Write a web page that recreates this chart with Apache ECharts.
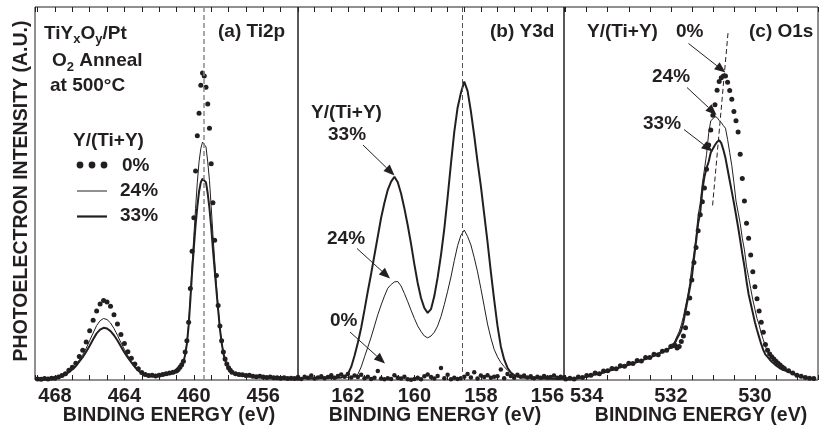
<!DOCTYPE html>
<html>
<head>
<meta charset="utf-8">
<title>TiYxOy/Pt XPS spectra</title>
<script src="https://cdn.jsdelivr.net/npm/echarts@6/dist/echarts.min.js"></script>
<style>
html, body { margin: 0; padding: 0; background: #fff; }
#chart { width: 821px; height: 430px; }
</style>
</head>
<body>
<div id="chart"></div>
<script>
// (a) Ti2p  -- binding energy (eV) and intensity (a.u., 0-100 of the frame)
const tiEnergy = [
  469.0, 468.8, 468.6, 468.4, 468.2, 468.0, 467.8, 467.6, 467.4, 467.2,
  467.0, 466.8, 466.6, 466.4, 466.2, 466.0, 465.8, 465.6, 465.4, 465.2,
  465.0, 464.8, 464.6, 464.4, 464.2, 464.0, 463.8, 463.6, 463.4, 463.2,
  463.0, 462.8, 462.6, 462.4, 462.2, 462.0, 461.8, 461.6, 461.4, 461.2,
  461.0, 460.9, 460.8, 460.7, 460.6, 460.5, 460.4, 460.3, 460.2, 460.1,
  460.0, 459.9, 459.8, 459.7, 459.6, 459.5, 459.4, 459.3, 459.2, 459.1,
  459.0, 458.9, 458.8, 458.7, 458.6, 458.5, 458.4, 458.3, 458.2, 458.1,
  458.0, 457.9, 457.8,
  457.6, 457.4, 457.2, 457.0, 456.8, 456.6, 456.4, 456.2, 456.0, 455.8,
  455.6, 455.4, 455.2, 455.0, 454.8, 454.6, 454.4, 454.2, 454.0
];
const ti0 = [
  0.3, 0.2, 0.4, 0.3, 0.5, 0.5, 0.8, 1.2, 1.7, 2.6,
  3.4, 4.5, 6.3, 8.0, 10.2, 13.2, 16.0, 18.5, 20.4, 21.3,
  20.9, 19.8, 17.5, 15.0, 12.2, 9.8, 7.6, 5.8, 4.3, 3.0,
  2.0, 1.5, 1.2, 1.3, 1.1, 1.3, 1.5, 1.7, 1.9, 2.1,
  2.4, 2.8, 3.4, 4.1, 5.0, 7.5, 10.5, 15.5, 24.5, 34.5,
  43.5, 56.0, 65.5, 71.5, 79.0, 82.3, 81.5, 78.5, 74.0, 67.5,
  58.0, 47.5, 37.5, 28.0, 20.0, 14.5, 10.5, 7.5, 5.6, 4.3,
  3.3, 2.6, 2.1,
  1.7, 1.5, 1.4, 1.2, 1.3, 1.0, 0.9, 1.0, 0.8, 0.7,
  0.8, 0.6, 0.6, 0.5, 0.6, 0.4, 0.5, 0.4, 0.5
];
const ti24 = [
  0.3, 0.2, 0.4, 0.3, 0.4, 0.5, 0.7, 1.1, 1.5, 2.3,
  3.0, 4.0, 5.4, 6.8, 8.5, 10.6, 12.6, 14.6, 15.9, 16.5,
  16.2, 15.3, 13.8, 12.0, 10.0, 8.2, 6.5, 5.0, 3.8, 2.7,
  1.9, 1.4, 1.1, 1.1, 1.0, 1.2, 1.3, 1.5, 1.7, 1.9,
  2.2, 2.6, 3.2, 3.9, 4.8, 7.0, 10.0, 15.0, 22.5, 31.0,
  38.5, 46.0, 53.0, 58.5, 62.0, 63.8, 64.3, 62.5, 58.5, 53.5,
  46.5, 39.0, 32.0, 25.5, 19.5, 14.0, 10.2, 7.3, 5.4, 4.1,
  3.2, 2.5, 2.0,
  1.6, 1.4, 1.3, 1.1, 1.1, 0.9, 0.9, 0.8, 0.7, 0.7,
  0.6, 0.6, 0.5, 0.5, 0.5, 0.4, 0.4, 0.4, 0.4
];
const ti33 = [
  0.3, 0.2, 0.3, 0.3, 0.4, 0.5, 0.7, 1.0, 1.4, 2.1,
  2.8, 3.7, 4.9, 6.1, 7.6, 9.2, 10.9, 12.5, 13.5, 14.0,
  13.8, 13.1, 12.0, 10.6, 9.0, 7.4, 6.0, 4.7, 3.5, 2.5,
  1.8, 1.3, 1.1, 1.0, 1.0, 1.1, 1.2, 1.4, 1.6, 1.8,
  2.1, 2.5, 3.1, 3.8, 4.7, 6.8, 9.7, 14.5, 21.5, 29.0,
  35.5, 41.5, 46.5, 50.5, 53.0, 54.0, 54.2, 53.0, 50.0, 46.0,
  41.0, 35.0, 29.5, 24.0, 18.8, 13.8, 10.0, 7.2, 5.3, 4.0,
  3.1, 2.4, 1.9,
  1.5, 1.3, 1.2, 1.0, 1.0, 0.9, 0.8, 0.8, 0.7, 0.6,
  0.6, 0.5, 0.5, 0.5, 0.4, 0.4, 0.4, 0.3, 0.4
];

// (b) Y3d
const yEnergy = [
  163.5, 163.4, 163.3, 163.2, 163.1, 163.0,
  162.9, 162.8, 162.7, 162.6, 162.5, 162.4, 162.3, 162.2, 162.1, 162.0,
  161.9, 161.8, 161.7, 161.6, 161.5, 161.4, 161.3, 161.2, 161.1, 161.0,
  160.9, 160.8, 160.7, 160.6, 160.5, 160.4, 160.3, 160.2, 160.1, 160.0,
  159.9, 159.8, 159.7, 159.6, 159.5, 159.4, 159.3, 159.2, 159.1, 159.0,
  158.9, 158.8, 158.7, 158.6, 158.5, 158.4, 158.3, 158.2, 158.1, 158.0,
  157.9, 157.8, 157.7, 157.6, 157.5, 157.4, 157.3, 157.2, 157.1, 157.0,
  156.9, 156.8, 156.7, 156.6, 156.5, 156.4, 156.3, 156.2, 156.1, 156.0,
  155.9, 155.8, 155.7, 155.6, 155.5
];
const y0 = [
  0.8, 0.3, 0.9, 0.6, 1.2, 0.4,
  0.7, 1.0, 0.5, 0.8, 1.3, 0.6, 1.1, 1.5, 0.9, 1.6,
  0.7, 1.2, 0.8, 1.4, 0.5, 0.9, 0.3, 0.6, 2.4, 0.4,
  0.2, 0.5, 0.3, 1.3, 0.6, 0.4, 0.9, 0.2, 0.1, 0.3,
  0.6, 0.2, 1.0, 1.5, 0.8, 0.4, 1.1, 3.2, 0.5, 1.4,
  0.2, 0.6, 0.3, 0.5, 0.9, 1.6, 0.7, 2.1, 0.4, 1.2,
  0.8, 1.3, 0.6, 0.9, 1.0, 2.8, 0.5, 1.6, 1.1, 0.6,
  1.4, 0.9, 1.2, 0.7, 1.0, 0.5, 0.9, 0.6, 1.1, 0.7,
  0.8, 1.2, 0.6, 0.9, 0.7
];
const y24 = [
  0.4, 0.3, 0.4, 0.5, 0.4, 0.5,
  0.4, 0.6, 0.5, 0.6, 0.5, 0.6, 0.7, 0.6, 0.8, 0.7,
  0.7, 1.0, 1.5, 3.5, 6.2, 8.8, 11.5, 14.5, 17.5, 20.1,
  22.5, 24.6, 25.6, 26.3, 26.4, 25.2, 23.2, 21.0, 18.7, 16.5,
  14.5, 13.0, 11.8, 11.3, 11.8, 12.8, 14.5, 17.0, 20.2, 23.8,
  27.6, 32.0, 36.0, 38.8, 40.2, 38.5, 36.2, 32.8, 29.0, 24.5,
  19.8, 15.0, 11.3, 8.2, 6.2, 4.7, 3.6, 2.6, 1.9, 1.3,
  1.0, 0.8, 0.7, 0.8, 0.6, 0.5, 0.6, 0.5, 0.4, 0.5,
  0.4, 0.3, 0.4, 0.3, 0.3
];
const y33 = [
  0.4, 0.3, 0.5, 0.4, 0.5, 0.4,
  0.6, 0.5, 0.6, 0.7, 0.6, 0.5, 0.6, 0.7, 0.9, 1.6,
  3.5, 6.5, 10.0, 14.0, 18.8, 23.8, 28.5, 33.5, 38.5, 43.5,
  47.5, 51.0, 53.2, 54.5, 53.0, 50.0, 46.0, 41.5, 36.5, 31.0,
  26.0, 22.0, 19.3, 18.0, 19.0, 22.5, 27.5, 33.5, 40.5, 49.0,
  58.0, 66.5, 73.0, 77.0, 80.0, 77.5, 72.0, 65.5, 58.5, 52.0,
  44.5, 37.0, 29.0, 21.5, 14.5, 9.0, 5.5, 3.3, 2.0, 1.3,
  0.9, 0.8, 0.6, 0.7, 0.5, 0.6, 0.5, 0.4, 0.5, 0.4,
  0.3, 0.4, 0.3, 0.3, 0.4
];

// (c) O1s
const oEnergy = [
  534.5, 534.4, 534.3, 534.2, 534.1, 534.0, 533.9, 533.8, 533.7, 533.6,
  533.5, 533.4, 533.3, 533.2, 533.1, 533.0, 532.9, 532.8, 532.7, 532.6,
  532.5, 532.4, 532.3, 532.2, 532.1, 532.0,
  531.95, 531.90, 531.85, 531.80, 531.75, 531.70, 531.65, 531.60, 531.55, 531.50,
  531.45, 531.40, 531.35, 531.30, 531.25, 531.20, 531.15, 531.10, 531.05, 531.00,
  530.95, 530.90, 530.85, 530.80, 530.75, 530.70, 530.65, 530.60, 530.55, 530.50,
  530.45, 530.40, 530.35, 530.30, 530.25, 530.20, 530.15, 530.10, 530.05, 530.00,
  529.95, 529.90, 529.85, 529.80, 529.75, 529.70, 529.65, 529.60, 529.55, 529.50,
  529.45, 529.40, 529.35, 529.30,
  529.2, 529.1, 529.0, 528.9, 528.8, 528.7, 528.6
];
const o0 = [
  0.3, 0.5, 0.3, 0.8, 0.7, 1.2, 1.3, 1.9, 1.7, 2.4,
  2.5, 3.1, 3.0, 3.8, 3.7, 4.5, 4.4, 5.2, 5.1, 6.0,
  6.0, 6.9, 6.8, 7.7, 8.0, 9.0,
  9.2, 9.3, 8.6, 9.0, 10.3, 11.8, 14.0, 17.9, 22.0, 26.8,
  31.5, 35.5, 40.0, 44.3, 47.8, 51.5, 56.5, 63.0, 67.0, 71.0,
  73.8, 77.7, 80.0, 81.0, 81.5, 81.5, 79.8, 77.6, 75.3, 72.0,
  69.5, 66.5, 60.5, 54.0, 48.0, 42.0, 38.0, 33.5, 29.0, 25.0,
  21.8, 18.5, 15.5, 12.8, 9.5, 8.0, 7.0, 6.2, 5.6, 5.0,
  4.5, 4.0, 3.5, 3.1,
  2.5, 1.9, 1.3, 1.0, 0.7, 0.5, 0.4
];
const o24 = [
  0.2, 0.3, 0.4, 0.6, 0.7, 1.0, 1.3, 1.6, 1.8, 2.1,
  2.5, 2.8, 3.1, 3.5, 3.8, 4.2, 4.5, 4.9, 5.3, 5.7,
  6.1, 6.6, 7.1, 7.6, 8.2, 8.9,
  9.5, 10.5, 11.8, 13.0, 14.8, 17.0, 19.8, 22.5, 25.8, 30.4,
  34.0, 38.5, 44.2, 47.5, 52.7, 56.5, 60.5, 66.1, 69.5, 70.0,
  70.6, 70.4, 69.6, 69.0, 68.2, 67.5, 64.5, 61.0, 57.5, 53.0,
  48.0, 45.0, 42.0, 38.0, 34.9, 30.5, 27.5, 24.5, 21.5, 19.0,
  16.5, 14.8, 12.5, 10.8, 9.0, 7.6, 6.8, 6.0, 5.3, 4.7,
  4.2, 3.8, 3.4, 3.0,
  2.5, 1.9, 1.4, 1.0, 0.7, 0.5, 0.4
];
const o33 = [
  0.2, 0.3, 0.3, 0.5, 0.7, 0.9, 1.2, 1.5, 1.7, 2.0,
  2.4, 2.7, 3.0, 3.4, 3.7, 4.1, 4.4, 4.8, 5.2, 5.6,
  6.0, 6.5, 7.0, 7.5, 8.1, 8.7,
  9.3, 10.0, 11.2, 12.2, 13.4, 15.5, 18.5, 21.5, 24.5, 27.5,
  32.5, 37.0, 42.0, 45.0, 50.9, 54.5, 56.8, 58.5, 61.0, 62.0,
  63.0, 63.8, 64.3, 63.5, 61.7, 59.5, 56.5, 53.5, 50.5, 47.5,
  44.3, 41.0, 37.5, 33.8, 30.5, 26.5, 23.0, 20.5, 18.0, 15.5,
  13.4, 11.5, 9.6, 8.0, 6.8, 6.2, 5.5, 4.9, 4.4, 3.9,
  3.5, 3.1, 2.8, 2.6,
  2.2, 1.7, 1.2, 0.9, 0.6, 0.5, 0.4
];

// tick labels and reference lines
const tiTicks = [456, 460, 464, 468];
const yTicks = [156, 158, 160, 162];
const oTicks = [530, 532, 534];
const tiPeakLine = 459.45;
const yPeakLine = 158.56;
const oShiftLine = [[530.64, 93.0], [531.01, 46.4]];

const ink = '#231f20';
const family = "'Liberation Sans', Arial, Helvetica, sans-serif";

function pairs(xs, ys) {
  return xs.map((x, i) => [x, ys[i]]);
}
function tickFormatter(ticks) {
  return function (v) {
    const t = ticks.find(k => Math.abs(k - v) < 1e-6);
    return t === undefined ? '' : String(t);
  };
}

const panels = [
  { left: 35, width: 263, min: 454, max: 469.15, interval: 1, ticks: tiTicks, dot: 5 },
  { left: 298, width: 266, min: 155.5, max: 163.5, interval: 0.5, ticks: yTicks, dot: 4.5 },
  { left: 564, width: 262, min: 528.5, max: 534.54, interval: 0.5, ticks: oTicks, dot: 5 }
];

const grid = panels.map(p => ({
  left: p.left, top: 7, width: p.width, height: 373,
  show: true, borderColor: ink, borderWidth: 1, backgroundColor: 'transparent'
}));

const xAxis = [];
panels.forEach((p, g) => {
  const common = {
    type: 'value', gridIndex: g, inverse: true,
    min: p.min, max: p.max, interval: p.interval,
    axisLine: { show: false },
    splitLine: { show: false },
    axisTick: { show: true, inside: true, length: 5, lineStyle: { color: ink, width: 1 } }
  };
  xAxis.push(Object.assign({}, common, {
    position: 'bottom',
    axisLabel: {
      formatter: tickFormatter(p.ticks), color: ink, fontSize: 20,
      fontWeight: 'bold', fontFamily: family, margin: 6,
      showMinLabel: true, showMaxLabel: true
    }
  }));
  xAxis.push(Object.assign({}, common, {
    position: 'top', axisLabel: { show: false }
  }));
});

const yAxis = panels.map((p, g) => ({ type: 'value', gridIndex: g, min: 0, max: 100, show: false }));

function dots(g, xs, ys, extra) {
  return Object.assign({
    type: 'scatter', xAxisIndex: 2 * g, yAxisIndex: g,
    data: pairs(xs, ys), symbol: 'circle', symbolSize: panels[g].dot,
    itemStyle: { color: ink, opacity: 1 }, z: 3
  }, extra || {});
}
function line(g, xs, ys, w) {
  return {
    type: 'line', xAxisIndex: 2 * g, yAxisIndex: g,
    data: pairs(xs, ys), showSymbol: false, symbol: 'none',
    lineStyle: { color: ink, width: w }, z: 2
  };
}

const series = [
  dots(0, tiEnergy, ti0, {
    markLine: {
      silent: true, symbol: 'none', label: { show: false },
      lineStyle: { color: '#8a8a8a', width: 1.5, type: [5, 3] },
      data: [{ xAxis: tiPeakLine }]
    }
  }),
  line(0, tiEnergy, ti24, 1),
  line(0, tiEnergy, ti33, 2),
  dots(1, yEnergy, y0, {
    markLine: {
      silent: true, symbol: 'none', label: { show: false },
      lineStyle: { color: '#555', width: 1, type: [5, 3] },
      data: [{ xAxis: yPeakLine }]
    }
  }),
  line(1, yEnergy, y24, 1),
  line(1, yEnergy, y33, 2),
  dots(2, oEnergy, o0, {
    markLine: {
      silent: true, symbol: 'none', label: { show: false },
      lineStyle: { color: ink, width: 1, type: [5, 3] },
      data: [[{ coord: oShiftLine[0] }, { coord: oShiftLine[1] }]]
    }
  }),
  line(2, oEnergy, o24, 1),
  line(2, oEnergy, o33, 2)
];

// ---- annotations ----
const measureCtx = document.createElement('canvas').getContext('2d');
function textWidth(str, size) {
  measureCtx.font = 'bold ' + size + 'px ' + family;
  return measureCtx.measureText(str).width;
}
function label(str, x, cy, size, align) {
  return {
    type: 'text', x: x, y: cy, silent: true,
    style: {
      text: str, fill: ink, fontSize: size || 19, fontWeight: 'bold', fontFamily: family,
      textAlign: align || 'left', textVerticalAlign: 'middle'
    }
  };
}
// text with subscripts: parts like ['TiY', ['x'], 'O', ['y'], '/Pt']
function subText(parts, x, cy, size) {
  const out = [];
  let cx = x;
  parts.forEach(p => {
    if (Array.isArray(p)) {
      out.push(label(p[0], cx, cy + 6, 13));
      cx += textWidth(p[0], 13);
    } else {
      out.push(label(p, cx, cy, size));
      cx += textWidth(p, size);
    }
  });
  return out;
}
function arrow(x1, y1, x2, y2) {
  const dx = x2 - x1, dy = y2 - y1, len = Math.hypot(dx, dy);
  const ux = dx / len, uy = dy / len, hl = 11, hw = 4.5;
  const bx = x2 - ux * hl, by = y2 - uy * hl;
  return [
    { type: 'line', silent: true, shape: { x1: x1, y1: y1, x2: bx, y2: by }, style: { stroke: ink, lineWidth: 1 } },
    { type: 'polygon', silent: true, shape: { points: [[x2, y2], [bx - uy * hw, by + ux * hw], [bx + uy * hw, by - ux * hw]] }, style: { fill: ink } }
  ];
}

const graphic = [].concat(
  // axis titles
  {
    type: 'text', x: 22, y: 191, rotation: Math.PI / 2, silent: true,
    style: { text: 'PHOTOELECTRON INTENSITY (A.U.)', fill: ink, fontSize: 19.5, fontWeight: 'bold',
      fontFamily: family, textAlign: 'center', textVerticalAlign: 'middle' }
  },
  label('BINDING ENERGY (eV)', 169, 415.5, 19.5, 'center'),
  label('BINDING ENERGY (eV)', 435, 415.5, 19.5, 'center'),
  label('BINDING ENERGY (eV)', 701, 415.5, 19.5, 'center'),
  // panel (a)
  subText(['TiY', ['x'], 'O', ['y'], '/Pt'], 44, 33.5, 19),
  subText(['O', ['2'], ' Anneal'], 52, 61, 19),
  label('at 500\u00b0C', 50, 85.5, 19),
  label('(a) Ti2p', 218, 31.5, 19),
  label('Y/(Ti+Y)', 73, 140.5, 19),
  { type: 'circle', silent: true, shape: { cx: 80, cy: 165, r: 3.4 }, style: { fill: ink } },
  { type: 'circle', silent: true, shape: { cx: 92, cy: 165, r: 3.4 }, style: { fill: ink } },
  { type: 'circle', silent: true, shape: { cx: 104, cy: 165, r: 3.4 }, style: { fill: ink } },
  label('0%', 122, 166, 19),
  { type: 'line', silent: true, shape: { x1: 77, y1: 191, x2: 107, y2: 191 }, style: { stroke: ink, lineWidth: 1 } },
  label('24%', 120, 190.5, 19),
  { type: 'line', silent: true, shape: { x1: 77, y1: 216.5, x2: 107, y2: 216.5 }, style: { stroke: ink, lineWidth: 2.2 } },
  label('33%', 120, 216, 19),
  // panel (b)
  label('(b) Y3d', 490, 32, 19),
  label('Y/(Ti+Y)', 311, 113, 19),
  label('33%', 328, 135, 19),
  arrow(363, 145, 394.5, 175.5),
  label('24%', 327, 239, 19),
  arrow(357, 248.5, 390, 278.5),
  label('0%', 330, 320.5, 19),
  arrow(350, 332, 385, 363.5),
  // panel (c)
  label('(c) O1s', 749, 31.5, 19),
  label('Y/(Ti+Y)', 587, 31.5, 19),
  label('0%', 676, 31.5, 19),
  arrow(688.5, 43.5, 725.5, 72.5),
  label('24%', 652, 77, 19),
  arrow(687, 87.5, 716.5, 115),
  label('33%', 643, 124, 19),
  arrow(684, 129.5, 712.5, 151.5)
);

const chart = echarts.init(document.getElementById('chart'), null, { renderer: 'canvas' });
chart.setOption({
  backgroundColor: '#ffffff',
  animation: false,
  grid: grid,
  xAxis: xAxis,
  yAxis: yAxis,
  series: series,
  graphic: graphic
});
</script>
</body>
</html>
